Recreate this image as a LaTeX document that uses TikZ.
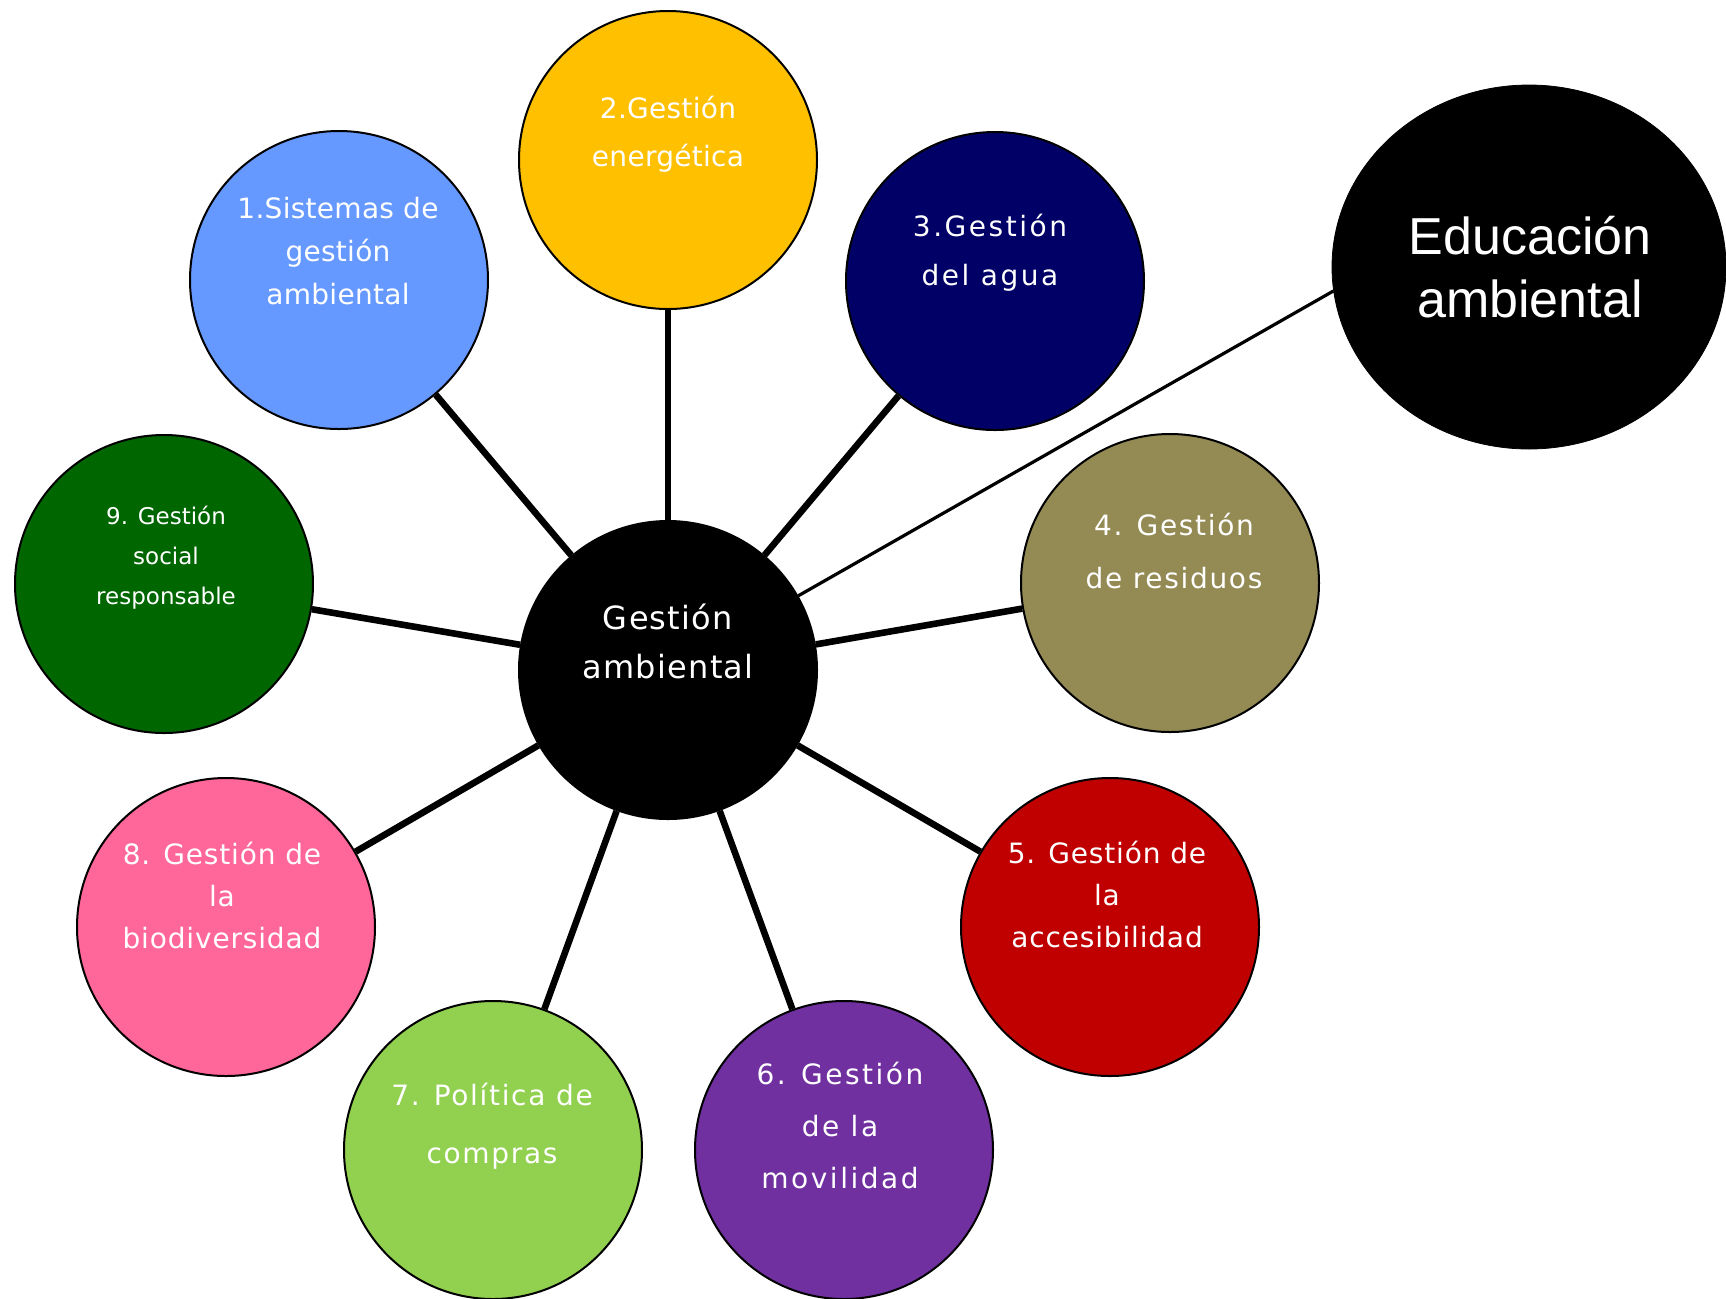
\documentclass[tikz,border=0pt]{standalone}
\usepackage{fontspec}
\setmainfont{DejaVu Sans}
\newfontfamily\pixA[LetterSpace=1]{DejaVu Sans}
\newfontfamily\pixB[LetterSpace=3]{DejaVu Sans}
\newfontfamily\pixM[LetterSpace=4]{DejaVu Sans}
\newfontfamily\pixC[LetterSpace=6]{DejaVu Sans}
\newfontfamily\pixD[LetterSpace=9]{DejaVu Sans}
\newfontfamily\pixN[LetterSpace=0]{DejaVu Sans}
\newfontfamily\arialfont{Liberation Sans}
\usetikzlibrary{shapes.geometric}
\definecolor{colSis}{HTML}{6699FF}
\definecolor{colEne}{HTML}{FFC000}
\definecolor{colAgu}{HTML}{000066}
\definecolor{colRes}{HTML}{948A54}
\definecolor{colAcc}{HTML}{C00000}
\definecolor{colMov}{HTML}{7030A0}
\definecolor{colCom}{HTML}{92D050}
\definecolor{colBio}{HTML}{FF6699}
\definecolor{colSoc}{HTML}{006600}
\begin{document}
\begin{tikzpicture}[x=0.5pt,y=-0.5pt,
  bubble/.style={circle, draw=black, line width=1pt, minimum size=149pt, inner sep=0pt},
  btext/.style={text=white, align=center, anchor=north, inner sep=0pt},
  spoke/.style={line width=3.3pt, draw=black},
  thinspoke/.style={line width=1.6pt, draw=black}]
\useasboundingbox[fill=white] (0,0) rectangle (1726,1298);
% circles
\node[bubble, fill=black] (main) at (668,670) {};
\node[bubble, fill=colSis] (c1) at (339,280) {};
\node[bubble, fill=colEne] (c2) at (668,160) {};
\node[bubble, fill=colAgu] (c3) at (995,281) {};
\node[bubble, fill=colRes] (c4) at (1170,583) {};
\node[bubble, fill=colAcc] (c5) at (1110,927) {};
\node[bubble, fill=colMov] (c6) at (844,1150) {};
\node[bubble, fill=colCom] (c7) at (493,1150) {};
\node[bubble, fill=colBio] (c8) at (226,927) {};
\node[bubble, fill=colSoc] (c9) at (164,584) {};
\node[ellipse, fill=black, draw=black, minimum width=197pt, minimum height=182pt, inner sep=0pt] (educ) at (1529,267) {};
% connectors
\foreach \n in {c1,c2,c3,c4,c5,c6,c7,c8,c9} \draw[spoke] (main) -- (\n);
\draw[thinspoke] (main) -- (educ.187);
% texts
\node[btext, font=\pixM\fontsize{16}{24.5}\selectfont] (tmain) at (668,603) {Gestión\\ambiental};
\node[btext, font=\pixA\fontsize{14}{21.5}\selectfont] (t1) at (338,197) {1.Sistemas de\\gestión\\ambiental};
\node[btext, font=\pixA\fontsize{14}{24}\selectfont] (t2) at (668,96) {2.Gestión\\energética};
\node[btext, font=\pixD\fontsize{14}{24.5}\selectfont] (t3) at (990,214) {3.Gestión\\del agua};
\node[btext, font=\pixC\fontsize{14}{26.5}\selectfont] (t4) at (1174,513) {4. Gestión\\de residuos};
\node[btext, font=\pixB\fontsize{14}{21}\selectfont] (t5) at (1107,841) {5. Gestión de\\la\\accesibilidad};
\node[btext, font=\pixD\fontsize{14}{26}\selectfont] (t6) at (840,1062) {6. Gestión\\de la\\movilidad};
\node[btext, font=\pixC\fontsize{14}{29}\selectfont] (t7) at (492,1083) {7. Política de\\compras};
\node[btext, font=\pixB\fontsize{14}{21}\selectfont] (t8) at (222,842) {8. Gestión de\\la\\biodiversidad};
\node[btext, font=\pixN\fontsize{11.5}{20}\selectfont] (t9) at (166,506) {9. Gestión\\social\\responsable};
\node[btext, font=\arialfont\fontsize{26}{31.5}\selectfont] (teduc) at (1530,216) {Educación\\ambiental};
\end{tikzpicture}
\end{document}
